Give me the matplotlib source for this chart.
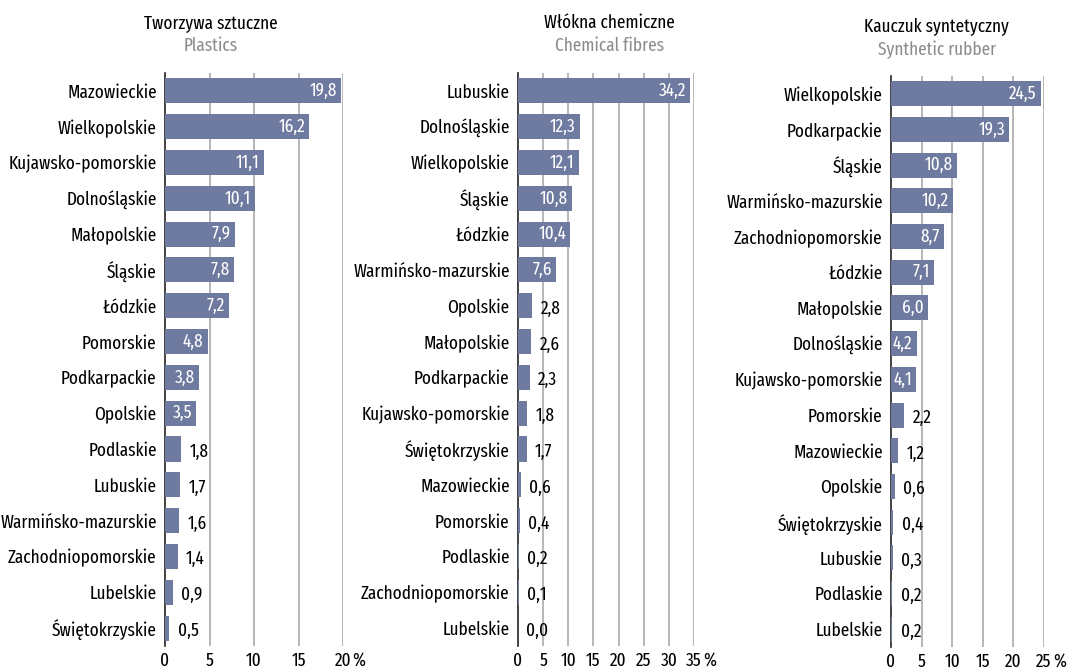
import matplotlib
matplotlib.use("Agg")
import matplotlib.pyplot as plt

plt.rcParams['font.family'] = ['Fira Sans Extra Condensed', 'Fira Sans Condensed',
                               'Roboto Condensed', 'DejaVu Sans']

# Tworzywa sztuczne / Plastics
plastics_regions = ['Mazowieckie', 'Wielkopolskie', 'Kujawsko-pomorskie', 'Dolnośląskie',
                    'Małopolskie', 'Śląskie', 'Łódzkie', 'Pomorskie', 'Podkarpackie',
                    'Opolskie', 'Podlaskie', 'Lubuskie', 'Warmińsko-mazurskie',
                    'Zachodniopomorskie', 'Lubelskie', 'Świętokrzyskie']
plastics_values = [19.8, 16.2, 11.1, 10.1, 7.9, 7.8, 7.2, 4.8, 3.8, 3.5, 1.8, 1.7, 1.6, 1.4, 0.9, 0.5]

# Włókna chemiczne / Chemical fibres
fibres_regions = ['Lubuskie', 'Dolnośląskie', 'Wielkopolskie', 'Śląskie', 'Łódzkie',
                  'Warmińsko-mazurskie', 'Opolskie', 'Małopolskie', 'Podkarpackie',
                  'Kujawsko-pomorskie', 'Świętokrzyskie', 'Mazowieckie', 'Pomorskie',
                  'Podlaskie', 'Zachodniopomorskie', 'Lubelskie']
fibres_values = [34.2, 12.3, 12.1, 10.8, 10.4, 7.6, 2.8, 2.6, 2.3, 1.8, 1.7, 0.6, 0.4, 0.2, 0.1, 0.0]

# Kauczuk syntetyczny / Synthetic rubber
rubber_regions = ['Wielkopolskie', 'Podkarpackie', 'Śląskie', 'Warmińsko-mazurskie',
                  'Zachodniopomorskie', 'Łódzkie', 'Małopolskie', 'Dolnośląskie',
                  'Kujawsko-pomorskie', 'Pomorskie', 'Mazowieckie', 'Opolskie',
                  'Świętokrzyskie', 'Lubuskie', 'Podlaskie', 'Lubelskie']
rubber_values = [24.5, 19.3, 10.8, 10.2, 8.7, 7.1, 6.0, 4.2, 4.1, 2.2, 1.2, 0.6, 0.4, 0.3, 0.2, 0.2]

BAR = '#6e7a9f'
GRID = '#aaaaaa'
FS = 13.5

panels = [
    (plastics_regions, plastics_values, 'Tworzywa sztuczne', 'Plastics',
     [0.1524, 0.0373, 0.1643, 0.8539], 20, 5, 3.0, 0.195, 23, 46),
    (fibres_regions, fibres_values, 'Włókna chemiczne', 'Chemical fibres',
     [0.4783, 0.0373, 0.1625, 0.8539], 35, 5, 5.0, 0.563, 23, 46),
    (rubber_regions, rubber_values, 'Kauczuk syntetyczny', 'Synthetic rubber',
     [0.8227, 0.0358, 0.1413, 0.8509], 25, 5, 3.0, 0.865, 27, 50),
]

fig = plt.figure(figsize=(10.83, 6.71), dpi=100)

for regions, values, title, subtitle, pos, xmax, step, thr, tx, ty1, ty2 in panels:
    ax = fig.add_axes(pos)
    y = list(range(len(regions)))
    ax.barh(y, values, height=0.7, color=BAR, zorder=3)
    ax.set_ylim(len(regions) - 0.5, -0.5)
    ax.set_xlim(0, xmax)
    ax.set_yticks(y)
    ax.set_yticklabels(regions, fontsize=FS)
    ticks = list(range(0, xmax + 1, step))
    ax.set_xticks(ticks)
    ax.set_xticklabels([str(t) for t in ticks], fontsize=FS)
    ax.tick_params(length=0)
    ax.tick_params(axis='y', pad=6)
    ax.tick_params(axis='x', pad=4)
    # percent sign next to the last tick label
    ax.annotate('%', (xmax, 0), xycoords=('data', 'axes fraction'), xytext=(7, -4),
                textcoords='offset points', ha='left', va='top', fontsize=FS)
    for t in ticks[1:]:
        ax.axvline(t, color=GRID, lw=1.2, zorder=1)
    for s in ['top', 'right', 'bottom']:
        ax.spines[s].set_visible(False)
    ax.spines['left'].set_color('#222222')
    ax.spines['left'].set_linewidth(1.2)
    ax.spines['left'].set_zorder(2)
    for yi, v in zip(y, values):
        txt = f'{v:.1f}'.replace('.', ',')
        if v >= thr:
            ax.annotate(txt, (v, yi), xytext=(-3, 0), textcoords='offset points',
                        ha='right', va='center', color='white', fontsize=FS, zorder=4)
        else:
            ax.annotate(txt, (v, yi), xytext=(6, -2), textcoords='offset points',
                        ha='left', va='center', color='black', fontsize=FS, zorder=4)
    fig.text(tx, 1 - ty1 / 671, title, ha='center', va='center', fontsize=FS, color='black')
    fig.text(tx, 1 - ty2 / 671, subtitle, ha='center', va='center', fontsize=FS, color='#8c8c8c')

fig.savefig('out.png', dpi=100)
